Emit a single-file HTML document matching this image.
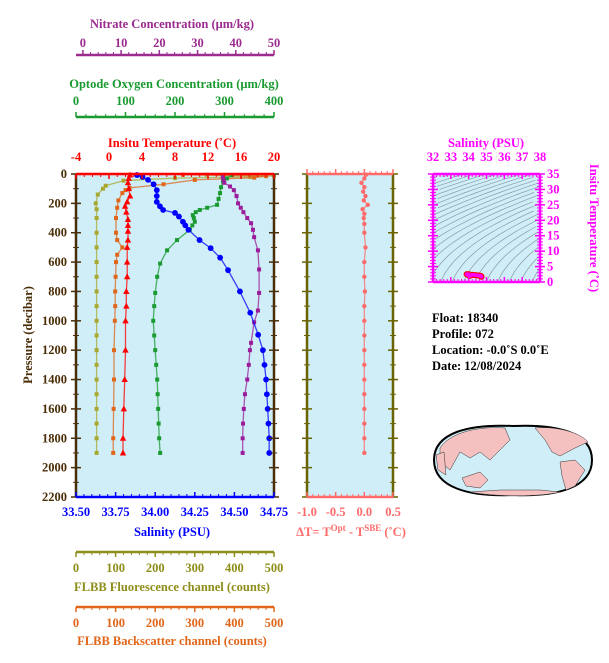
<!DOCTYPE html>
<html><head><meta charset="utf-8"><style>
body{margin:0;background:#fff;}
svg{display:block;font-family:"Liberation Serif",serif;}
</style></head><body>
<svg id="c" width="609" height="663" viewBox="0 0 609 663"></svg>
<script>
// ---- data ----
const salP=[7,20,40,70,110,150,190,220,245,265,290,325,350,380,450,505,570,655,800,945,1095,1200,1300,1400,1500,1600,1700,1800,1900];
const salV=[33.885,33.92,33.955,33.99,34.01,34.01,34.01,34.03,34.05,34.125,34.15,34.175,34.19,34.21,34.28,34.35,34.41,34.46,34.535,34.6,34.65,34.68,34.69,34.70,34.705,34.71,34.715,34.72,34.72];
const tempP=[7,30,60,100,150,190,220,260,310,350,390,450,500,600,700,800,900,1000,1200,1400,1600,1800,1900];
const tempV=[2.55,2.4,2.3,2.4,2.55,2.2,1.95,2.1,2.3,2.3,2.3,2.3,2.2,2.2,2.2,2.1,2.1,2.0,2.0,1.9,1.8,1.7,1.7];
const oxyP=[7,30,50,90,130,170,210,230,245,260,280,300,325,350,380,450,520,610,700,810,900,1000,1100,1200,1300,1400,1500,1600,1700,1800,1900];
const oxyV=[315,305,297,293,291,288,285,265,250,242,236,238,240,235,230,204,184,170,164,160,158,156,158,160,162,164,165,166,167,168,170];
const nitP=[20,40,60,85,110,150,200,230,260,300,335,380,430,520,650,810,930,1010,1150,1200,1300,1400,1500,1600,1700,1800,1900];
const nitV=[36.6,36.8,37,38.5,39.5,40.2,40.6,41.3,42,43,44,44.5,44.8,45.8,46.1,46.1,45.8,44.8,44,43.7,43.4,43,42.4,42.1,41.9,41.8,41.8];
const fluP=[5,12,20,28,45,80,100,140,200,240,300,400,500,600,700,800,900,1000,1100,1200,1300,1400,1500,1600,1700,1800,1900];
const fluV=[330,500,440,250,120,75,68,55,50,52,52,52,52,52,52,52,52,52,52,52,52,52,52,52,52,52,52];
const bbpP=[5,15,25,40,70,95,110,130,180,230,300,400,450,500,550,600,700,800,900,1000,1200,1400,1600,1800,1900];
const bbpV=[270,480,450,300,221,135,125,117,107,104,101,101,104,117,104,101,100,99,99,98,96,96,95,94,94];
const dtP=[5,30,60,90,120,150,180,210,240,270,300,340,400,500,600,700,800,900,1000,1100,1200,1300,1400,1500,1600,1700,1800,1900];
const dtV=[0.03,0.0,-0.05,0.0,-0.02,0.02,-0.01,0.06,-0.03,0.0,-0.01,0.0,0.0,0.02,0.0,0.0,0.01,0.0,0.0,0.0,0.0,0.0,0.0,0.0,0.0,0.0,0.0,0.0];
const presTicks=[0,200,400,600,800,1000,1200,1400,1600,1800,2000,2200];
const salTicks=[33.5,33.75,34.0,34.25,34.5,34.75];
const tempTicks=[-4,0,4,8,12,16,20];
const oxyTicks=[0,100,200,300,400];
const nitTicks=[0,10,20,30,40,50];
const cntTicks=[0,100,200,300,400,500];
const dtTicks=[-1.0,-0.5,0.0,0.5];
const tsSalTicks=[32,33,34,35,36,37,38];
const tsTempTicks=[0,5,10,15,20,25,30,35];

// ---- scales ----
const X0=76,X1=274,Y0=174,Y1=497;
const yP=p=>Y0+p/2200*(Y1-Y0);
const lin=(d0,d1,r0,r1)=>v=>r0+(v-d0)/(d1-d0)*(r1-r0);
const xSal=lin(33.5,34.75,X0,X1), xT=lin(-4,20,X0,X1), xO=lin(0,400,X0,X1), xN=lin(-1.8,50,X0,X1), xC=lin(0,500,X0,X1);
const DX0=307,DX1=393; const xDT=lin(-1,0.5,DX0,DX1);
const TX0=433,TX1=540,TY0=174,TY1=282;
const tsX=lin(32,38,TX0,TX1), tsY=lin(0,35,TY1,TY0);

const svg=document.getElementById('c');
const NS='http://www.w3.org/2000/svg';
function el(tag,attrs,parent){const e=document.createElementNS(NS,tag);for(const k in attrs)e.setAttribute(k,attrs[k]);(parent||svg).appendChild(e);return e;}
function txt(x,y,s,col,size,anchor,name,extra){const t=el('text',Object.assign({x:x,y:y,fill:col,'font-size':size||12,'text-anchor':anchor||'middle','font-weight':'bold'},extra||{}));t.textContent=s;


return t;}

let bg=el('rect',{x:X0,y:Y0,width:X1-X0,height:Y1-Y0,fill:'#cfeef8'});


let bg2=el('rect',{x:DX0,y:Y0,width:DX1-DX0,height:Y1-Y0,fill:'#cfeef8'});


let bg3=el('rect',{x:TX0,y:TY0,width:TX1-TX0,height:TY1-TY0,fill:'#cfeef8'});



function hAxis(y,xa,xb,ticks,scale,col,dir,labY,fmt,name,minorN){
  const g=el('g',{});
  
  
  el('line',{x1:xa,y1:y,x2:xb,y2:y,stroke:col,'stroke-width':2.5},g);
  for(let i=0;i<ticks.length;i++){const x=scale(ticks[i]);
    el('line',{x1:x,y1:y,x2:x,y2:y+dir*5,stroke:col,'stroke-width':1.5},g);
    if(labY!==null){const t=el('text',{x:x,y:labY,fill:col,'font-size':12.5,'text-anchor':'middle','font-weight':'bold'},g);t.textContent=fmt(ticks[i]);}
    if(i<ticks.length-1&&minorN){const x2=scale(ticks[i+1]);for(let k=1;k<minorN;k++){const xm=x+(x2-x)*k/minorN;el('line',{x1:xm,y1:y,x2:xm,y2:y+dir*3,stroke:col,'stroke-width':1},g);}}
  }
  return g;
}
function vAxis(x,ya,yb,ticks,scale,col,dir,labX,anchor,fmt,name,minorN){
  const g=el('g',{});
  
  
  el('line',{x1:x,y1:ya,x2:x,y2:yb,stroke:col,'stroke-width':2.5},g);
  for(let i=0;i<ticks.length;i++){const y=scale(ticks[i]);
    el('line',{x1:x-5,y1:y,x2:x+5,y2:y,stroke:col,'stroke-width':1.5},g);
    if(labX!==null){const t=el('text',{x:labX,y:y+4,fill:col,'font-size':12.5,'text-anchor':anchor,'font-weight':'bold'},g);t.textContent=fmt(ticks[i]);}
    if(i<ticks.length-1&&minorN){const y2=scale(ticks[i+1]);for(let k=1;k<minorN;k++){const ym=y+(y2-y)*k/minorN;el('line',{x1:x-3,y1:ym,x2:x+3,y2:ym,stroke:col,'stroke-width':1},g);}}
  }
  return g;
}
const brown='#4a2e08', olive='#6b6200';
const fmt0=v=>String(v), fmt2=v=>v.toFixed(2), fmt1=v=>v.toFixed(1);

function series(P,V,xs,col,marker,name,r){
  const g=el('g',{});
  
  
  const s=r||2.3;
  el('polyline',{points:P.map((p,i)=>xs(V[i]).toFixed(1)+','+yP(p).toFixed(1)).join(' '),fill:'none',stroke:col,'stroke-width':1.3,'stroke-opacity':0.75},g);
  P.forEach((p,i)=>{const x=xs(V[i]),y=yP(p);
    if(marker==='tri')el('polygon',{points:`${x},${y-3.5} ${x-3.2},${y+2.5} ${x+3.2},${y+2.5}`,fill:col},g);
    else if(marker==='circ')el('circle',{cx:x,cy:y,r:s+0.6,fill:col},g);
    else el('rect',{x:x-s,y:y-s,width:2*s,height:2*s,fill:col},g);});
  return g;
}
series(fluP,fluV,xC,'#a8a830','sq','fluorescence-series',2);
series(bbpP,bbpV,xC,'#e0661a','sq','backscatter-series',2);
series(tempP,tempV,xT,'#ff0000','tri','temperature-series');
series(oxyP,oxyV,xO,'#1a9a30','sq','oxygen-series',2);
series(nitP,nitV,xN,'#9b1d9b','sq','nitrate-series',2);
series(salP,salV,xSal,'#0000ff','circ','salinity-series',2.3);
series(dtP,dtV,xDT,'#ff6a6a','circ','delta-t-series',1.6);

vAxis(X0,Y0,Y1,presTicks,yP,brown,-1,67,'end',fmt0,'pressure-axis',2);
vAxis(X1,Y0,Y1,presTicks,yP,brown,1,null,'end',fmt0,'pressure-axis-right',2);
hAxis(Y0,X0,X1,tempTicks,xT,'#ff0000',1,161,fmt0,'temperature-axis',4);
hAxis(Y1,X0,X1,salTicks,xSal,'#0000ff',-1,516,fmt2,'salinity-axis',5);
hAxis(55,X0,X1,nitTicks,xN,'#9b2b8f',-1,47,fmt0,'nitrate-axis',5);
hAxis(117,X0,X1,oxyTicks,xO,'#1a9a30',-1,105,fmt0,'oxygen-axis',5);
hAxis(552,X0,X1,cntTicks,xC,'#8e8e1a',1,572,fmt0,'fluorescence-axis',5);
hAxis(607,X0,X1,cntTicks,xC,'#e0661a',1,627,fmt0,'backscatter-axis',5);
txt(172,28,'Nitrate Concentration (\u03bcm/kg)','#9b2b8f',12.5,'middle','nitrate-axis-title');
txt(174,88,'Optode Oxygen Concentration (\u03bcm/kg)','#1a9a30',12.5,'middle','oxygen-axis-title');
txt(172,147,'Insitu Temperature (\u02daC)','#ff0000',12.5,'middle','temperature-axis-title');
txt(172,536,'Salinity (PSU)','#0000ff',12.5,'middle','salinity-axis-title');
txt(172,591,'FLBB Fluorescence channel (counts)','#8e8e1a',12.5,'middle','fluorescence-axis-title');
txt(172,645,'FLBB Backscatter channel (counts)','#e0661a',12.5,'middle','backscatter-axis-title');
txt(32,335,'Pressure (decibar)',brown,12.5,'middle','pressure-axis-title',{transform:'rotate(-90 32 335)'});

vAxis(DX0,Y0,Y1,presTicks,yP,olive,-1,null,'end',fmt0,'delta-t-left-axis',2);
vAxis(DX1,Y0,Y1,presTicks,yP,olive,1,null,'end',fmt0,'delta-t-right-axis',2);
hAxis(Y0,DX0,DX1,dtTicks,xDT,'#ff6a6a',-1,null,fmt1,'delta-t-top-axis',5);
hAxis(Y1,DX0,DX1,dtTicks,xDT,'#ff6a6a',-1,516,fmt1,'delta-t-axis',5);
const dtt=el('text',{x:351,y:536,fill:'#ff6a6a','font-size':12.5,'text-anchor':'middle','font-weight':'bold'});


dtt.innerHTML='\u0394T= T<tspan dy="-5" font-size="9">Opt</tspan><tspan dy="5"> - T</tspan><tspan dy="-5" font-size="9">SBE</tspan><tspan dy="5"> (\u02daC)</tspan>';

const cg=el('g',{});


for(let sig=14;sig<=32;sig+=0.5){
  const pts=[];for(let T=0;T<=35;T+=1){const S=35+(sig-28+0.05*T+0.0055*T*T)/0.78;pts.push([S,T]);}
  const vis=pts.filter(q=>q[0]>=32&&q[0]<=38);
  if(vis.length>1)el('polyline',{points:vis.map(q=>tsX(q[0]).toFixed(1)+','+tsY(q[1]).toFixed(1)).join(' '),fill:'none',stroke:'#8a9aa4','stroke-width':0.7},cg);
}
const tsg=el('g',{});


function nearestSal(p){let j=0;for(let k=0;k<salP.length;k++)if(Math.abs(salP[k]-p)<Math.abs(salP[j]-p))j=k;return salV[j];}
tempP.forEach((p,i)=>{el('circle',{cx:tsX(nearestSal(p)),cy:tsY(tempV[i]),r:3,fill:'#ff0000'},tsg);});
tempP.forEach((p,i)=>{el('circle',{cx:tsX(nearestSal(p)),cy:tsY(tempV[i]),r:1.8,fill:'#ff00ff'},tsg);});
const mag='#ff00ff';
hAxis(TY0,TX0,TX1,tsSalTicks,tsX,mag,1,161,fmt0,'ts-salinity-axis',5);
hAxis(TY1,TX0,TX1,tsSalTicks,tsX,mag,-1,null,fmt0,'ts-salinity-axis-bottom',5);
vAxis(TX0,TY0,TY1,tsTempTicks,tsY,mag,-1,null,'end',fmt0,'ts-temp-axis-left',5);
vAxis(TX1,TY0,TY1,tsTempTicks,tsY,mag,1,547,'start',fmt0,'ts-temp-axis',5);
txt(486,147,'Salinity (PSU)',mag,12.5,'middle','ts-salinity-title');
txt(590,228,'Insitu Temperature (\u02daC)',mag,12.5,'middle','ts-temp-title',{transform:'rotate(90 590 228)'});

['Float:  18340','Profile:  072','Location:  -0.0\u02daS   0.0\u02daE','Date:  12/08/2024'].forEach((s,i)=>{
  txt(432,322+i*16,s,'#000',12.5,'start','info-line-'+(i+1));});

const mg=el('g',{});


el('path',{d:'M434,460 C434,432 470,424 513,426 C556,424 592,432 592,460 C592,488 556,497 513,495 C470,497 434,488 434,460 Z',fill:'#cfeef8',stroke:'#000','stroke-width':2},mg);
const land='#f4c0c0';
el('path',{d:'M440,448 C450,432 480,426 505,428 L510,440 L500,450 L490,460 L480,452 L470,458 L460,452 L450,470 L440,462 Z',fill:land,stroke:'#333','stroke-width':0.5},mg);
el('path',{d:'M462,478 L480,472 L488,480 L480,488 L466,486 Z',fill:land,stroke:'#333','stroke-width':0.5},mg);
el('path',{d:'M535,428 C555,426 580,432 588,442 L575,448 L560,456 L552,452 L545,440 Z',fill:land,stroke:'#333','stroke-width':0.5},mg);
el('path',{d:'M560,462 L575,460 L585,470 L575,486 L566,490 L562,476 Z',fill:land,stroke:'#333','stroke-width':0.5},mg);
el('path',{d:'M436,455 L444,452 L446,475 L438,470 Z',fill:land,stroke:'#333','stroke-width':0.5},mg);
el('path',{d:'M470,492 C495,497 540,497 560,492 L540,490 L500,490 Z',fill:land,stroke:'#333','stroke-width':0.5},mg);
</script>
</body></html>
